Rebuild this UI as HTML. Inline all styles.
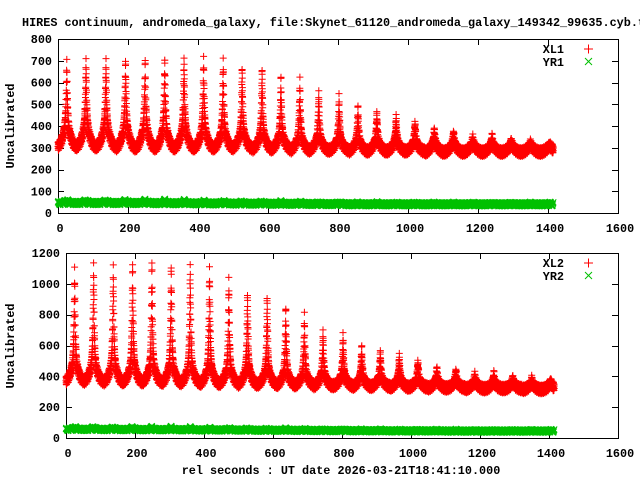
<!DOCTYPE html>
<html><head><meta charset="utf-8"><style>
html,body{margin:0;padding:0;background:#fff;}
svg{display:block;}
text{font-family:"Liberation Mono",monospace;font-weight:bold;font-size:11.8px;fill:#000;}
</style></head><body>
<svg id="chart" width="640" height="480" viewBox="0 0 640 480">
<text x="22" y="26">HIRES continuum, andromeda_galaxy, file:Skynet_61120_andromeda_galaxy_149342_99635.cyb.txt</text>
<text x="0" y="0" transform="translate(14,126) rotate(-90)" text-anchor="middle">Uncalibrated</text>
<text x="0" y="0" transform="translate(14,346) rotate(-90)" text-anchor="middle">Uncalibrated</text>
<text x="341" y="474" text-anchor="middle">rel seconds : UT date 2026-03-21T18:41:10.000</text>
<g id="top"></g>
<g id="bottom"></g>
</svg>
<script>
const peakTimes=[25,80,137,193,249,305,360,416,472,526,583,637,691,745,803,857,911,966,1020,1075,1130,1185,1240,1295,1350,1405];
const xl1Peak=[700,700,700,705,705,720,710,712,700,676,671,634,607,552,533,492,464,441,418,386,372,345,350,331,322,310];
const xl1Shoulder=[440,440,440,435,435,430,425,420,410,400,395,385,375,365,355,350,345,340,335,330,325,320,318,315,312,310];
const xl1Trough=[305,305,305,300,300,300,300,300,300,300,295,295,290,290,290,285,285,285,285,280,280,280,280,280,280,280];
const xl2Peak=[1100,1122,1109,1135,1141,1128,1122,1100,1025,947,927,850,791,687,661,597,564,532,500,454,441,408,415,390,383,370];
const xl2Shoulder=[540,540,535,530,530,525,520,510,500,490,475,460,450,435,425,410,400,395,385,375,370,365,360,355,352,350];
const xl2Trough=[370,370,365,365,365,360,360,355,355,350,350,345,345,340,340,335,335,330,330,325,325,320,320,320,315,315];
const yr1Level=[46,46,46,46,46,45,45,44,44,43,43,42,42,41,41,40,40,40,40,40,40,40,40,40,40,40];
const yr1Bump=[14,14,13,13,12,12,11,10,10,9,8,8,7,6,6,5,5,4,4,4,3,3,3,3,3,3];
const yr2Level=[56,56,55,55,54,54,53,52,52,51,50,50,49,48,48,47,47,46,46,46,45,45,45,45,45,45];
const yr2Bump=[18,18,17,17,16,15,14,13,12,11,10,9,8,7,6,6,5,5,4,4,4,3,3,3,3,3];
const noisePattern=[0,0.8,-0.5,1,-0.9,0.3,-1,0.6,-0.2,0.9,-0.7,0.4,-0.4,0.7,-0.8,0.1,0.5,-0.3,0.2];
const tEnd=1415, tStep=0.25;
const xTicks=[0,200,400,600,800,1000,1200,1400,1600];
const yTicksTop=[0,100,200,300,400,500,600,700,800];
const yTicksBottom=[0,200,400,600,800,1000,1200];

const NS='http://www.w3.org/2000/svg';
function mk(tag,attrs,parent){const e=document.createElementNS(NS,tag);for(const k in attrs)e.setAttribute(k,attrs[k]);parent.appendChild(e);return e;}

function nearestCycle(t){let best=0;for(let i=1;i<peakTimes.length;i++){if(Math.abs(peakTimes[i]-t)<Math.abs(peakTimes[best]-t))best=i;}return best;}
function redValue(t,pk,sh,tr){
  const i=nearestCycle(t);
  let p=Math.abs(t-peakTimes[i])/55.4; if(p>0.5)p=0.5;
  const u=1-2*p;
  return tr[i]+(sh[i]-tr[i])*u*u+(pk[i]-sh[i])*Math.pow(u,14);
}
function greenValue(t,lv,bp){
  const i=nearestCycle(t);
  let p=Math.abs(t-peakTimes[i])/55.4; if(p>0.5)p=0.5;
  const u=1-2*p;
  return lv[i]+bp[i]*Math.pow(u,6);
}

function panel(g,L,R,T,B,ymax,yTicks,pk,sh,tr,lv,bp,redAmp,grAmp,idx){
  const xs=v=>L+(v/1600)*(R-L);
  const ys=v=>B-(v/ymax)*(B-T);
  const fr=mk('rect',{x:L+0.5,y:T+0.5,width:R-L,height:B-T,fill:'none',stroke:'#000','stroke-width':1},g);
  
  
  let tk='';
  xTicks.forEach(v=>{const x=Math.round(xs(v))+0.5;tk+=`M${x} ${B}v-6M${x} ${T}v6`;
    const t=mk('text',{x:xs(v)+2,y:B+19,'text-anchor':'middle'},g);t.textContent=v;
    
    });
  yTicks.forEach(v=>{const y=Math.round(ys(v))+0.5;tk+=`M${L} ${y}h6M${R} ${y}h-6`;
    const t=mk('text',{x:L-6,y:ys(v)+4,'text-anchor':'end'},g);t.textContent=v;
    
    });
  const tp=mk('path',{d:tk,stroke:'#000','stroke-width':1,fill:'none'},g);
  
  
  let dr='',dg='',k=0;
  for(let t=0;t<=tEnd;t+=tStep,k++){
    const n=noisePattern[k%noisePattern.length];
    const n2=noisePattern[(k+5)%noisePattern.length];
    const x=xs(t);
    const yr=ys(redValue(t,pk,sh,tr)+redAmp*n);
    dr+=`M${(x-3.5).toFixed(1)} ${yr.toFixed(1)}h7M${x.toFixed(1)} ${(yr-3.5).toFixed(1)}v7`;
    if(k%2===0){
      const yg=ys(greenValue(t,lv,bp)+grAmp*n2);
      dg+=`M${(x-3).toFixed(1)} ${(yg-3).toFixed(1)}l6 6M${(x-3).toFixed(1)} ${(yg+3).toFixed(1)}l6 -6`;
    }
  }
  const pr=mk('path',{d:dr,stroke:'#ff0000','stroke-width':1,fill:'none'},g);
  
  
  const pg=mk('path',{d:dg,stroke:'#00c000','stroke-width':1,fill:'none'},g);
  
  
  const ly1=T+14, ly2=T+27;
  const t1=mk('text',{x:564,y:ly1,'text-anchor':'end'},g);t1.textContent='XL'+idx;
  
  
  const m1=mk('path',{d:`M584 ${ly1-4}h9M588.5 ${ly1-8.5}v9`,stroke:'#ff0000',fill:'none'},g);
  
  
  const t2=mk('text',{x:564,y:ly2,'text-anchor':'end'},g);t2.textContent='YR'+idx;
  
  
  const m2=mk('path',{d:`M585 ${ly2-8}l7 7M585 ${ly2-1}l7 -7`,stroke:'#00c000',fill:'none'},g);
  
  
}
panel(document.getElementById('top'),58,618,39,213,800,yTicksTop,xl1Peak,xl1Shoulder,xl1Trough,yr1Level,yr1Bump,20,9,1);
panel(document.getElementById('bottom'),66,618,253,438,1200,yTicksBottom,xl2Peak,xl2Shoulder,xl2Trough,yr2Level,yr2Bump,28,10,2);
</script>
</body></html>
